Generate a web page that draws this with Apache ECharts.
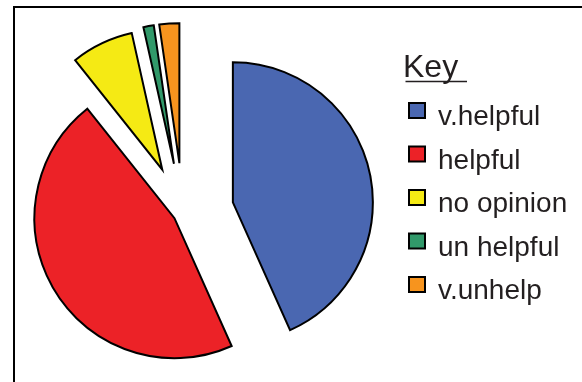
<!DOCTYPE html>
<html>
<head>
<meta charset="utf-8">
<script src="https://cdn.jsdelivr.net/npm/echarts@6/dist/echarts.min.js"></script>
<style>
  html, body { margin: 0; padding: 0; background: #ffffff; }
  #chart { width: 582px; height: 382px; }
</style>
</head>
<body>
<div id="chart"></div>
<script>
// Survey answers and their share of responses (%)
const categories = ['v.helpful', 'helpful', 'no opinion', 'un helpful', 'v.unhelp'];
const shares = [43.3, 46.0, 7.2, 1.2, 2.3];
const sliceColors = ['#4a67b1', '#ec2227', '#f5ea14', '#31996a', '#f7941e'];
// how far each slice is pulled out of the pie, in px
const explode = [51, 10, 48, 50, 50];

const chart = echarts.init(document.getElementById('chart'), null, { renderer: 'canvas' });

const FONT = 'Liberation Sans, Arial, sans-serif';
const TEXT = '#231f20';

function shownStyle(i) {
  return { color: sliceColors[i], borderColor: '#000000', borderWidth: 2, borderJoin: 'miter', opacity: 1 };
}
const hiddenStyle = { color: 'rgba(0,0,0,0)', borderWidth: 0 };

// One pie per slice so every slice can carry its own explode distance;
// the other slices of that pie are kept invisible but hold the angles.
const series = categories.map(function (name, k) {
  return {
    type: 'pie',
    name: name,
    center: [183, 213],
    radius: 140,
    startAngle: 90,
    clockwise: true,
    selectedMode: 'multiple',
    selectedOffset: explode[k],
    silent: true,
    animation: false,
    label: { show: false },
    labelLine: { show: false },
    emphasis: { disabled: true },
    data: categories.map(function (n, i) {
      const st = i === k ? shownStyle(i) : hiddenStyle;
      return {
        name: n,
        value: shares[i],
        selected: i === k,
        itemStyle: st,
        select: { itemStyle: st }
      };
    })
  };
});

chart.setOption({
  backgroundColor: '#ffffff',
  animation: false,
  title: {
    text: 'Key',
    left: 398,
    top: 47,
    textStyle: { fontFamily: FONT, fontSize: 32, fontWeight: 'normal', color: TEXT }
  },
  legend: {
    orient: 'vertical',
    left: 403,
    top: 97,
    icon: 'rect',
    itemWidth: 16,
    itemHeight: 15,
    itemGap: 14,
    selectedMode: false,
    formatter: '{t|{name}}',
    textStyle: {
      fontFamily: FONT, fontSize: 28, color: TEXT,
      rich: { t: { fontFamily: FONT, fontSize: 28, color: TEXT, padding: [14, 0, 0, 8] } }
    },
    data: categories.map(function (n, i) {
      return { name: n, itemStyle: shownStyle(i) };
    })
  },
  graphic: [
    {
      type: 'rect',
      shape: { x: 14, y: 7, width: 620, height: 420 },
      style: { fill: 'none', stroke: '#000000', lineWidth: 2 },
      silent: true
    },
    {
      type: 'line',
      shape: { x1: 405.5, y1: 81.5, x2: 467, y2: 81.5 },
      style: { stroke: TEXT, lineWidth: 1.6 },
      silent: true
    }
  ],
  series: series
});
</script>
</body>
</html>
